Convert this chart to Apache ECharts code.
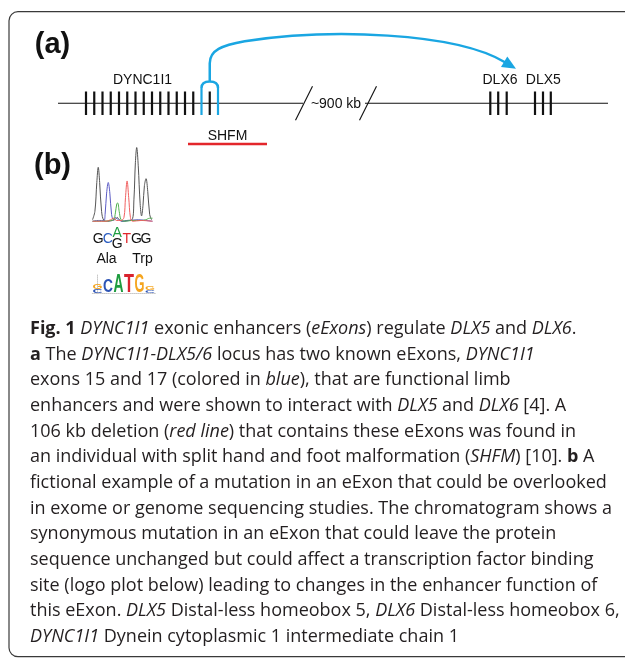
<!DOCTYPE html>
<html lang="en">
<head>
<meta charset="UTF-8">
<title>DYNC1I1 exonic enhancers</title>
<script src="https://cdn.jsdelivr.net/npm/echarts@6/dist/echarts.min.js"></script>
<style>
    html, body { margin: 0; padding: 0; background: #fff; }
    #chart { width: 625px; height: 660px; }
</style>
</head>
<body>
<div id="chart"></div>
<script>
// ---- panel (a): locus, positions in diagram units along the line
const backbone = [[0, 245], [307, 550]];
const breakMarks = [246, 310];
const breakLabel = '~900 kb';
const dyncExons = [28, 36.25, 44.5, 52.75, 61, 69.25, 77.5, 85.75, 94, 102.25, 110.5, 118.75, 127, 135.25, 143.5, 151.75, 160];
const eExonIndex = [14, 16];            // exons 15 and 17
const dlx6Exons = [432.3, 440.2, 448.7];
const dlx5Exons = [477, 485, 492.8];
const geneNames = ['DYNC1I1', 'DLX6', 'DLX5'];
const genePos = [84.5, 442, 485.3];
const deletion = [130, 209];
const deletionName = 'SHFM';
const loop = [151.75, 458];             // eExon pair -> DLX6/DLX5

// ---- panel (b): chromatogram (x = base position, y = signal)
const baseCalls = ['G', 'C', 'A', 'T', 'G', 'G'];
const altCall = [2, 'G'];
const codons = ['Ala', 'Trp'];
const codonPos = [0.87, 4.65];
const traceG = [[-0.6, 3], [-0.35, 14], [-0.15, 52], [0, 72], [0.15, 52], [0.35, 14], [0.6, 2], [1, 1], [1.5, 2], [1.85, 4], [2, 6], [2.15, 4], [2.5, 1], [3, 2], [3.55, 3], [3.75, 30], [3.9, 78], [4.04, 98], [4.2, 74], [4.4, 24], [4.55, 8], [4.7, 22], [4.85, 48], [5.02, 57], [5.2, 40], [5.4, 10], [5.6, 3]];
const traceC = [[-0.6, 1], [0, 2], [0.6, 2], [0.72, 10], [0.88, 38], [1.05, 52], [1.22, 38], [1.4, 10], [1.6, 3], [1.8, 6], [2.1, 3], [2.6, 1], [3.3, 2], [4.2, 3], [5, 2], [5.7, 1]];
const traceA = [[-0.6, 1], [0.5, 1], [1.3, 2], [1.65, 4], [1.8, 12], [1.95, 24], [2.05, 25], [2.2, 14], [2.4, 3], [2.8, 1], [3.5, 2], [4.5, 2], [5, 3], [5.4, 5], [5.7, 5]];
const traceT = [[-0.6, 1], [0.8, 1], [1.3, 3], [1.6, 5], [1.9, 2], [2.4, 2], [2.7, 6], [2.86, 32], [3.03, 54], [3.2, 32], [3.38, 6], [3.6, 1], [4.5, 2], [5.7, 1]];

// ---- logo plot, stacks bottom -> top, heights in bits
const logoStacks = [
    [['C', 0.45], ['G', 0.6]],
    [['C', 1.35]],
    [['A', 1.95]],
    [['T', 1.95]],
    [['G', 1.95]],
    [['C', 0.3], ['G', 0.42]]
];

// ---- caption
const capLines = [
    '{b|Fig. 1} {i|DYNC1I1} exonic enhancers ({i|eExons}) regulate {i|DLX5} and {i|DLX6}.',
    '{b|a} The {i|DYNC1I1-DLX5/6} locus has two known eExons, {i|DYNC1I1}',
    'exons 15 and 17 (colored in {i|blue}), that are functional limb',
    'enhancers and were shown to interact with {i|DLX5} and {i|DLX6} [4]. A',
    '106 kb deletion ({i|red line}) that contains these eExons was found in',
    'an individual with split hand and foot malformation ({i|SHFM}) [10]. {b|b} A',
    'fictional example of a mutation in an eExon that could be overlooked',
    'in exome or genome sequencing studies. The chromatogram shows a',
    'synonymous mutation in an eExon that could leave the protein',
    'sequence unchanged but could affect a transcription factor binding',
    'site (logo plot below) leading to changes in the enhancer function of',
    'this eExon. {i|DLX5} Distal-less homeobox 5, {i|DLX6} Distal-less homeobox 6,',
    '{i|DYNC1I1} Dynein cytoplasmic 1 intermediate chain 1'
];

const BLUE = '#1aa6e2';
const INK = '#111';
const baseColor = { A: '#1f9e42', C: '#2a5cc0', G: '#111', T: '#e0262b' };
const logoColor = { A: '#1e9c3f', C: '#2d54b5', G: '#f5a51f', T: '#d9232e' };
const glyphW = { A: 0.722, C: 0.722, G: 0.778, T: 0.611 };
const SANS = 'Liberation Sans, Arial, Helvetica, sans-serif';

const chart = echarts.init(document.getElementById('chart'));

const exonData = dyncExons.map((x, i) => [x, eExonIndex.includes(i) ? 1 : 0])
    .concat(dlx6Exons.map(x => [x, 0]), dlx5Exons.map(x => [x, 0]));

function txt(x, y, text, font, fill) {
    return {
        type: 'text', x: x, y: y,
        style: { text: text, font: font, fill: fill || INK, align: 'center', verticalAlign: 'middle', textAlign: 'center', textVerticalAlign: 'middle' }
    };
}

const CAP_FONT = 'Open Sans';
const CAP_SIZE = 18;
const capRich = {
    i: { fontFamily: CAP_FONT, fontSize: CAP_SIZE, fontStyle: 'italic', fill: '#231f20' },
    b: { fontFamily: CAP_FONT, fontSize: CAP_SIZE, fontWeight: 'bold', fill: '#231f20' }
};
const captionEls = capLines.map((t, i) => ({
    type: 'text', x: 30, y: 329 + i * 25.65,
    style: { text: t, rich: capRich, fontFamily: CAP_FONT, fontSize: CAP_SIZE, fill: '#231f20', verticalAlign: 'middle', textVerticalAlign: 'middle' }
}));

const option = {
    animation: false,
    grid: [
        { left: 58, top: 91.5, width: 550, height: 23.5 },
        { left: 93, top: 146, width: 60, height: 76 },
        { left: 92.3, top: 275, width: 63, height: 18.7 }
    ],
    xAxis: [
        { gridIndex: 0, type: 'value', min: 0, max: 550, show: false },
        { gridIndex: 1, type: 'value', min: -0.55, max: 5.75, show: false },
        { gridIndex: 2, type: 'value', min: -0.5, max: 5.5, splitLine: { show: false }, axisTick: { show: false }, axisLabel: { show: false },
          axisLine: { show: true, lineStyle: { color: '#c8c8c8', type: 'dotted', width: 1 } } }
    ],
    yAxis: [
        { gridIndex: 0, type: 'value', min: -1, max: 1, show: false },
        { gridIndex: 1, type: 'value', min: 0, max: 100, show: false },
        { gridIndex: 2, type: 'value', min: 0, max: 2, splitLine: { show: false }, axisTick: { show: false }, axisLabel: { show: false },
          axisLine: { show: true, lineStyle: { color: '#c8c8c8', type: 'dotted', width: 1 } } }
    ],
    graphic: [
        { type: 'rect', shape: { x: 9, y: 11.7, width: 700, height: 645, r: 9 }, style: { fill: 'none', stroke: '#3a3a3a', lineWidth: 1.2 }, silent: true },
        txt(52.5, 44.5, '(a)', 'bold 29px ' + SANS),
        txt(52.5, 166, '(b)', 'bold 29px ' + SANS)
    ].concat(captionEls),
    series: [
        {   // backbone
            type: 'custom', xAxisIndex: 0, yAxisIndex: 0, data: backbone,
            renderItem: function (params, api) {
                const a = api.coord([api.value(0), 0]);
                const b = api.coord([api.value(1), 0]);
                return { type: 'line', shape: { x1: a[0], y1: a[1], x2: b[0], y2: b[1] }, style: { stroke: INK, lineWidth: 1.2 } };
            }
        },
        {   // break marks
            type: 'custom', xAxisIndex: 0, yAxisIndex: 0, data: [breakMarks],
            renderItem: function (params, api) {
                const a = api.coord([api.value(0), 0]);
                const b = api.coord([api.value(1), 0]);
                const slash = p => ({ type: 'line', shape: { x1: p[0] - 8.5, y1: p[1] + 17, x2: p[0] + 8.5, y2: p[1] - 17 }, style: { stroke: INK, lineWidth: 1.1 } });
                return { type: 'group', children: [slash(a), slash(b), txt((a[0] + b[0]) / 2, a[1] + 0.5, breakLabel, '14px ' + SANS)] };
            }
        },
        {   // exons
            type: 'custom', xAxisIndex: 0, yAxisIndex: 0, data: exonData,
            renderItem: function (params, api) {
                const top = api.coord([api.value(0), 1]);
                const bot = api.coord([api.value(0), -1]);
                const blue = api.value(1) === 1;
                return { type: 'line', shape: { x1: top[0], y1: blue ? top[1] - 3.5 : top[1], x2: bot[0], y2: bot[1] },
                    style: { stroke: blue ? BLUE : INK, lineWidth: 2.2 } };
            }
        },
        {   // gene names
            type: 'custom', xAxisIndex: 0, yAxisIndex: 0, data: genePos.map(x => [x, 0]),
            renderItem: function (params, api) {
                const p = api.coord([api.value(0), 0]);
                return txt(p[0], p[1] - 23.5, geneNames[params.dataIndex], '14px ' + SANS);
            }
        },
        {   // deletion
            type: 'custom', xAxisIndex: 0, yAxisIndex: 0, data: [deletion],
            renderItem: function (params, api) {
                const a = api.coord([api.value(0), 0]);
                const b = api.coord([api.value(1), 0]);
                return { type: 'group', children: [
                    { type: 'line', shape: { x1: a[0], y1: a[1] + 40.8, x2: b[0], y2: b[1] + 40.8 }, style: { stroke: '#e3262b', lineWidth: 2.5 } },
                    txt((a[0] + b[0]) / 2, a[1] + 32.5, deletionName, '14px ' + SANS)
                ] };
            }
        },
        {   // enhancer loop with arrow
            type: 'custom', xAxisIndex: 0, yAxisIndex: 0, data: [loop],
            renderItem: function (params, api) {
                const s = api.coord([api.value(0), 0]);
                const t = api.coord([api.value(1), 0]);
                const e1 = api.coord([dyncExons[eExonIndex[0]], 1]);
                const e2 = api.coord([dyncExons[eExonIndex[1]], 1]);
                const y0 = s[1];
                const archTop = y0 - 21.75;
                const end = [t[0] - 11, y0 - 41];
                const tip = [t[0], y0 - 34.5];
                const d = [tip[0] - end[0], tip[1] - end[1]];
                const L = Math.hypot(d[0], d[1]);
                const n = [-d[1] / L * 6.2, d[0] / L * 6.2];
                const back = [end[0] - d[0] / L * 1, end[1] - d[1] / L * 1];
                const path =
                    'M' + e1[0] + ' ' + (e1[1] - 3.5) +
                    ' Q' + e1[0] + ' ' + archTop + ' ' + s[0] + ' ' + archTop +
                    ' Q' + e2[0] + ' ' + archTop + ' ' + e2[0] + ' ' + (e2[1] - 3.5) +
                    ' M' + s[0] + ' ' + archTop + ' L' + s[0] + ' ' + (y0 - 40) +
                    ' C' + s[0] + ' ' + (y0 - 53) + ' ' + (s[0] + 12) + ' ' + (y0 - 58) + ' ' + (s[0] + 35) + ' ' + (y0 - 62) +
                    ' C' + (s[0] + 120) + ' ' + (y0 - 75) + ' ' + (t[0] - 61) + ' ' + (y0 - 71) + ' ' + end[0] + ' ' + end[1];
                return { type: 'group', children: [
                    { type: 'path', shape: { pathData: path }, style: { fill: 'none', stroke: BLUE, lineWidth: 2.5 } },
                    { type: 'polygon', shape: { points: [tip, [back[0] + n[0], back[1] + n[1]], [back[0] - n[0], back[1] - n[1]]] }, style: { fill: BLUE } }
                ] };
            }
        },
        { type: 'line', xAxisIndex: 1, yAxisIndex: 1, data: traceG, showSymbol: false, smooth: 0.35, lineStyle: { color: '#555', width: 1 } },
        { type: 'line', xAxisIndex: 1, yAxisIndex: 1, data: traceC, showSymbol: false, smooth: 0.35, lineStyle: { color: '#5b5bc4', width: 1 } },
        { type: 'line', xAxisIndex: 1, yAxisIndex: 1, data: traceA, showSymbol: false, smooth: 0.35, lineStyle: { color: '#4fb04f', width: 1 } },
        { type: 'line', xAxisIndex: 1, yAxisIndex: 1, data: traceT, showSymbol: false, smooth: 0.35, lineStyle: { color: '#f06060', width: 1 } },
        {   // base calls
            type: 'custom', xAxisIndex: 1, yAxisIndex: 1, data: baseCalls.map((b, i) => [i, 0]),
            renderItem: function (params, api) {
                const p = api.coord([api.value(0), 0]);
                const b = baseCalls[params.dataIndex];
                const f = '14px ' + SANS;
                if (params.dataIndex === altCall[0]) {
                    return { type: 'group', children: [
                        txt(p[0], p[1] + 11.3, b, f, baseColor[b]),
                        txt(p[0], p[1] + 21.8, altCall[1], f, baseColor[altCall[1]])
                    ] };
                }
                return txt(p[0], p[1] + 16.7, b, f, baseColor[b]);
            }
        },
        {   // codons
            type: 'custom', xAxisIndex: 1, yAxisIndex: 1, data: codonPos.map(x => [x, 0]),
            renderItem: function (params, api) {
                const p = api.coord([api.value(0), 0]);
                return txt(p[0], p[1] + 36.7, codons[params.dataIndex], '14px ' + SANS);
            }
        },
        {   // logo
            type: 'custom', xAxisIndex: 2, yAxisIndex: 2, data: logoStacks.map((s, i) => [i, 0]),
            renderItem: function (params, api) {
                const col = api.value(0);
                const stack = logoStacks[params.dataIndex];
                const children = [];
                let cum = 0;
                stack.forEach(([b, h]) => {
                    const lo = api.coord([col, cum]);
                    const hi = api.coord([col, cum + h]);
                    const w = api.size([0.95, 0])[0];
                    const fs = 20;
                    children.push({
                        type: 'text', x: lo[0], y: (lo[1] + hi[1]) / 2,
                        scaleX: w / (glyphW[b] * fs), scaleY: (lo[1] - hi[1]) / (0.716 * fs),
                        style: { text: b, font: 'bold ' + fs + 'px ' + SANS, fill: logoColor[b], align: 'center', verticalAlign: 'middle', textAlign: 'center', textVerticalAlign: 'middle' }
                    });
                    cum += h;
                });
                return { type: 'group', children: children };
            }
        }
    ]
};

chart.setOption(option);
</script>
</body>
</html>
